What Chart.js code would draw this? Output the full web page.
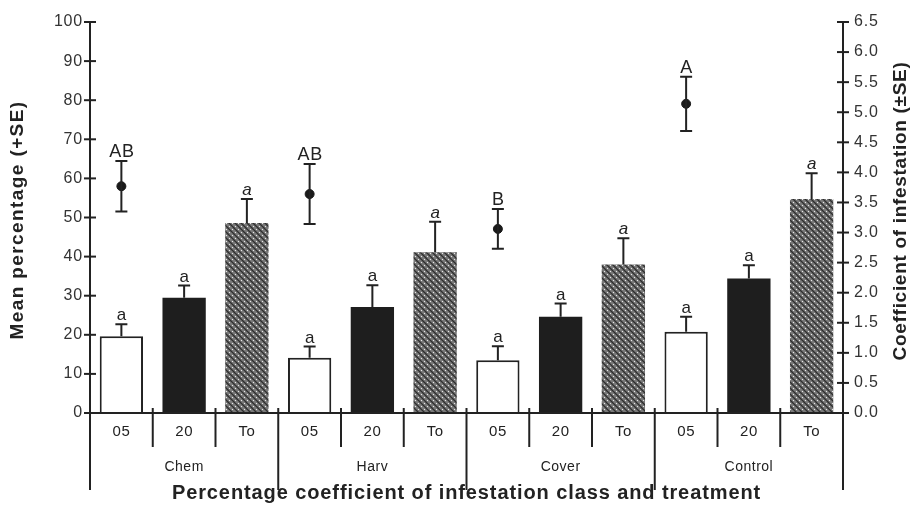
<!DOCTYPE html>
<html>
<head>
<meta charset="utf-8">
<script src="https://cdn.jsdelivr.net/npm/chart.js@4/dist/chart.umd.min.js"></script>
<style>
  html, body { margin: 0; padding: 0; background: #fff; }
  #wrap { width: 913px; height: 509px; }
</style>
</head>
<body>
<div id="wrap"><canvas id="chart" width="913" height="509"></canvas></div>
<script>
// classes and treatments
const classes = ['05', '20', 'To'];
const treatments = ['Chem', 'Harv', 'Cover', 'Control'];

// mean percentage (bars, left axis) and SE
const barMeans = [19.6, 29.5, 48.6, 14.1, 27.1, 41.1, 13.5, 24.6, 38.0, 20.8, 34.4, 54.7];
const barSE    = [3.1, 3.1, 6.1, 2.9, 5.6, 7.8, 3.6, 3.4, 6.7, 3.8, 3.4, 6.6];
const barLetters = ['a', 'a', 'a', 'a', 'a', 'a', 'a', 'a', 'a', 'a', 'a', 'a'];

// coefficient of infestation (points, right axis) and SE, one per treatment
const coefMeans = [3.77, 3.64, 3.06, 5.14];
const coefSE    = [0.42, 0.50, 0.33, 0.45];
const coefLetters = ['AB', 'AB', 'B', 'A'];

const leftTicks = [0, 10, 20, 30, 40, 50, 60, 70, 80, 90, 100];
const rightTicks = [0, 0.5, 1, 1.5, 2, 2.5, 3, 3.5, 4, 4.5, 5, 5.5, 6, 6.5];

const labels = [];
treatments.forEach(t => classes.forEach(c => labels.push(c)));

// point series placed over the "05" slot of each treatment
const pointData = labels.map((l, i) => (i % 3 === 0 ? coefMeans[i / 3] : null));

function hatchPattern() {
    const c = document.createElement('canvas');
    c.width = 6; c.height = 6;
    const g = c.getContext('2d');
    g.fillStyle = '#7a7a7a';
    g.fillRect(0, 0, 6, 6);
    g.strokeStyle = '#2e2e2e';
    g.lineWidth = 1.3;
    g.beginPath();
    g.moveTo(-1, -1); g.lineTo(7, 7);
    g.moveTo(-4, 2); g.lineTo(4, 10);
    g.moveTo(2, -4); g.lineTo(10, 4);
    g.stroke();
    g.fillStyle = '#e8e8e8';
    g.fillRect(4, 1, 1, 1);
    g.fillRect(1, 4, 1, 1);
    return g.createPattern(c, 'repeat');
}
const hatch = hatchPattern();

const barFill = labels.map((l, i) => ['#ffffff', '#1e1e1e', hatch][i % 3]);
const barBorder = labels.map((l, i) => ['#222222', '#1e1e1e', 'rgba(0,0,0,0)'][i % 3]);
const barBorderW = labels.map((l, i) => [2, 0, 0][i % 3]);

const FONT = "'Liberation Sans', Arial, sans-serif";
const INK = '#222';

function text(ctx, s, x, y, font, spacing) {
    ctx.font = font;
    ctx.letterSpacing = (spacing || 0) + 'px';
    ctx.fillText(s, x, y);
    ctx.letterSpacing = '0px';
}

const spacingPlugin = {
    id: 'spacing',
    beforeDraw(chart) { chart.ctx.letterSpacing = '0.8px'; },
    afterDraw(chart) { chart.ctx.letterSpacing = '0px'; }
};

const extras = {
    id: 'extras',
    afterDatasetsDraw(chart) {
        const ctx = chart.ctx;
        const x = chart.scales.x, y = chart.scales.y, y1 = chart.scales.y1;
        const area = chart.chartArea;
        const bottom = y.getPixelForValue(0);
        ctx.save();
        ctx.strokeStyle = INK;
        ctx.fillStyle = INK;
        ctx.lineWidth = 2;
        ctx.textAlign = 'center';
        ctx.textBaseline = 'alphabetic';

        // bar error bars and letters
        barMeans.forEach((v, i) => {
            const cx = x.getPixelForValue(i);
            const top = y.getPixelForValue(v);
            const up = y.getPixelForValue(v + barSE[i]);
            ctx.beginPath();
            ctx.moveTo(cx, top); ctx.lineTo(cx, up);
            ctx.moveTo(cx - 6, up); ctx.lineTo(cx + 6, up);
            ctx.stroke();
            text(ctx, barLetters[i], cx, up - 4, (i % 3 === 2 ? 'italic ' : '') + '17px ' + FONT, 0);
        });

        // point error bars and letters
        coefMeans.forEach((v, k) => {
            const cx = x.getPixelForValue(k * 3);
            const lo = y1.getPixelForValue(v - coefSE[k]);
            const hi = y1.getPixelForValue(v + coefSE[k]);
            ctx.beginPath();
            ctx.moveTo(cx, lo); ctx.lineTo(cx, hi);
            ctx.moveTo(cx - 6, lo); ctx.lineTo(cx + 6, lo);
            ctx.moveTo(cx - 6, hi); ctx.lineTo(cx + 6, hi);
            ctx.stroke();
            text(ctx, coefLetters[k], cx + 0.5, hi - 4, '18px ' + FONT, 0.5);
        });

        // axes lines
        const axisBottom = 490;
        ctx.beginPath();
        ctx.moveTo(area.left, area.top - 1); ctx.lineTo(area.left, axisBottom);
        ctx.moveTo(area.right, area.top - 1); ctx.lineTo(area.right, axisBottom);
        ctx.moveTo(area.left, bottom); ctx.lineTo(area.right, bottom);
        ctx.stroke();

        // crossing tick marks
        leftTicks.forEach(t => {
            const py = y.getPixelForValue(t);
            ctx.beginPath(); ctx.moveTo(area.left - 6, py); ctx.lineTo(area.left + 6, py); ctx.stroke();
        });
        rightTicks.forEach(t => {
            const py = y1.getPixelForValue(t);
            ctx.beginPath(); ctx.moveTo(area.right - 6, py); ctx.lineTo(area.right + 6, py); ctx.stroke();
        });

        // category separators
        const slot = (area.right - area.left) / labels.length;
        for (let i = 1; i < labels.length; i++) {
            const px = area.left + i * slot;
            ctx.beginPath();
            ctx.moveTo(px, bottom - 5);
            ctx.lineTo(px, i % 3 === 0 ? axisBottom : 447);
            ctx.stroke();
        }

        // class and treatment labels
        ctx.textBaseline = 'middle';
        labels.forEach((l, i) => text(ctx, l, x.getPixelForValue(i), 432, '15px ' + FONT, 0.5));
        treatments.forEach((t, k) => text(ctx, t, x.getPixelForValue(k * 3 + 1), 467, '14px ' + FONT, 0.5));

        // axis titles
        text(ctx, 'Percentage coefficient of infestation class and treatment', (area.left + area.right) / 2, 493, 'bold 20px ' + FONT, 0.9);
        ctx.save();
        ctx.translate(18, 220);
        ctx.rotate(-Math.PI / 2);
        text(ctx, 'Mean percentage (+SE)', 0, 0, 'bold 19px ' + FONT, 1.4);
        ctx.restore();
        ctx.save();
        ctx.translate(901, 211);
        ctx.rotate(-Math.PI / 2);
        text(ctx, 'Coefficient of infestation (\u00b1SE)', 0, 0, 'bold 19px ' + FONT, 0.7);
        ctx.restore();

        ctx.restore();
    }
};

new Chart(document.getElementById('chart').getContext('2d'), {
    data: {
        labels: labels,
        datasets: [
            {
                type: 'bar',
                data: barMeans,
                yAxisID: 'y',
                backgroundColor: barFill,
                borderColor: barBorder,
                borderWidth: barBorderW,
                barPercentage: 0.69,
                categoryPercentage: 1.0,
                order: 2
            },
            {
                type: 'line',
                data: pointData,
                yAxisID: 'y1',
                showLine: false,
                pointRadius: 4.5,
                pointBackgroundColor: '#1a1a1a',
                pointBorderColor: '#1a1a1a',
                order: 1
            }
        ]
    },
    options: {
        responsive: false,
        animation: false,
        devicePixelRatio: 1,
        layout: { padding: { top: 22, left: 0, right: 0, bottom: 0 } },
        plugins: { legend: { display: false }, tooltip: { enabled: false } },
        scales: {
            x: {
                offset: true,
                grid: { display: false, drawTicks: false },
                border: { display: false },
                ticks: { display: false },
                afterFit(s) { s.height = 96; }
            },
            y: {
                position: 'left',
                min: 0, max: 100,
                afterBuildTicks(s) { s.ticks = leftTicks.map(v => ({ value: v })); },
                grid: { display: false, drawTicks: false },
                border: { display: false },
                ticks: { padding: 7, color: '#333', font: { family: FONT, size: 16 } },
                afterFit(s) { s.width = 90; }
            },
            y1: {
                position: 'right',
                min: 0, max: 6.5,
                afterBuildTicks(s) { s.ticks = rightTicks.map(v => ({ value: v })); },
                grid: { display: false, drawTicks: false },
                border: { display: false },
                ticks: {
                    padding: 11, color: '#333', font: { family: FONT, size: 16 },
                    callback: v => Number(v).toFixed(1)
                },
                afterFit(s) { s.width = 70; }
            }
        }
    },
    plugins: [spacingPlugin, extras]
});
</script>
</body>
</html>
